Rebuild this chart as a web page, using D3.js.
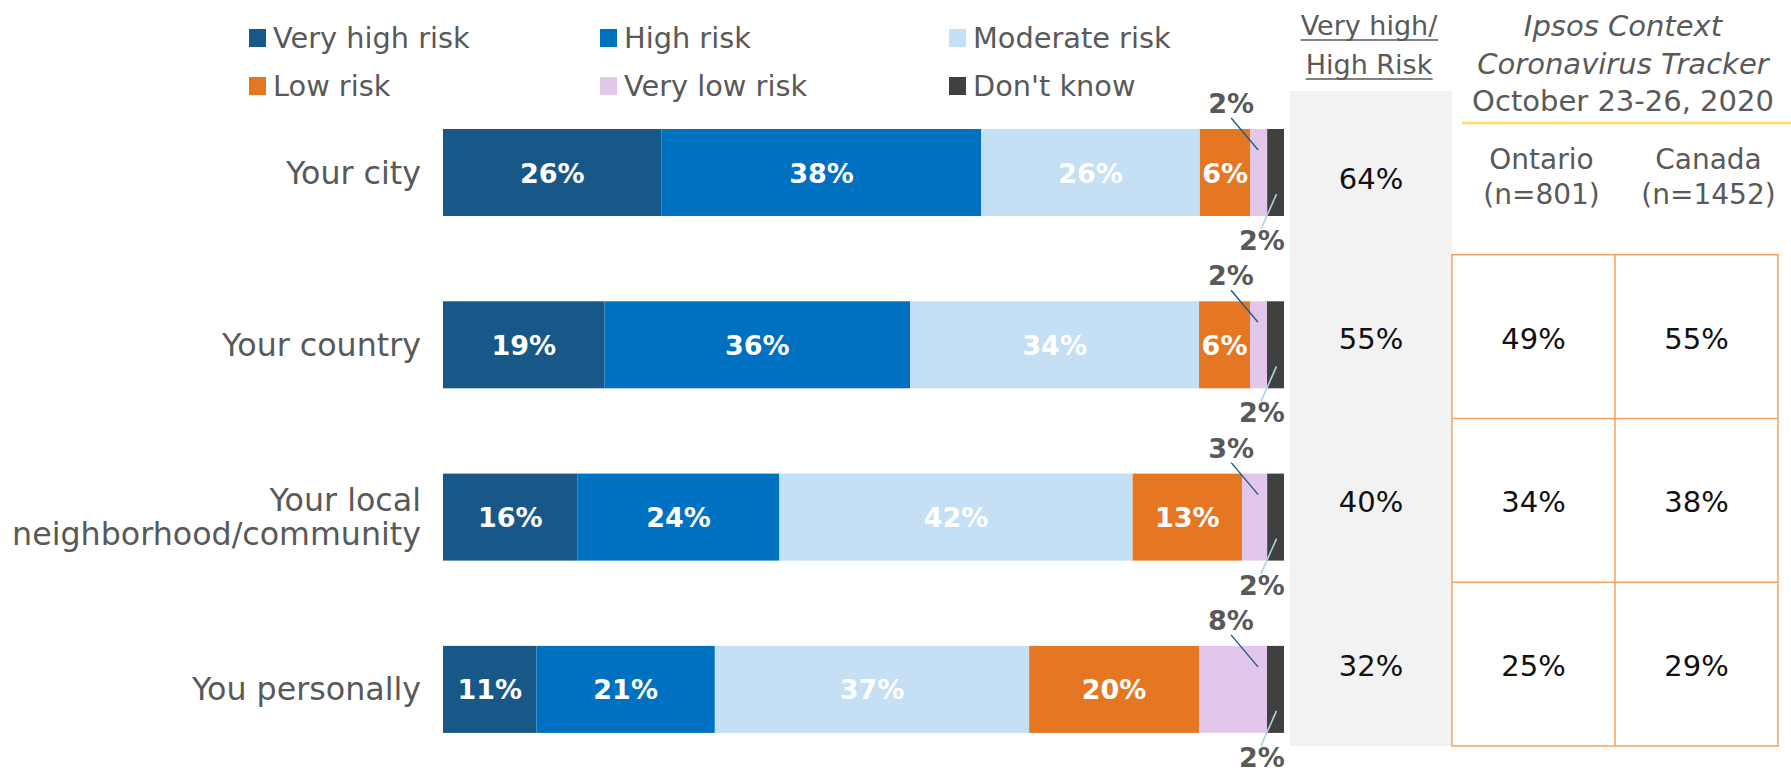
<!DOCTYPE html>
<html>
<head>
<meta charset="utf-8">
<script src="https://cdn.jsdelivr.net/npm/d3@7"></script>
<style>
  html, body { margin: 0; padding: 0; background: #ffffff; }
  svg { display: block; }
  text { font-family: "DejaVu Sans", sans-serif; }
</style>
</head>
<body>
<svg id="chart" width="1791" height="777"></svg>
<script>
// ---------- DATA ----------
const categories = ["Your city", "Your country", "Your local\nneighborhood/community", "You personally"];
const seriesNames = ["Very high risk", "High risk", "Moderate risk", "Low risk", "Very low risk", "Don't know"];
const veryHigh = [26, 19, 16, 11];
const high     = [38, 36, 24, 21];
const moderate = [26, 34, 42, 37];
const low      = [6, 6, 13, 20];
const veryLow  = [2, 2, 3, 8];
const dontKnow = [2, 2, 2, 2];
const veryHighHigh = [64, 55, 40, 32];
const trackerCategories = ["Your country", "Your local\nneighborhood/community", "You personally"];
const ontario = [49, 34, 25];
const canada  = [55, 38, 29];
const trackerColumns = ["Ontario\n(n=801)", "Canada\n(n=1452)"];
const trackerTitle = ["Ipsos Context", "Coronavirus Tracker", "October 23-26, 2020"];
const sumHeader = ["Very high/", "High Risk"];

// ---------- STYLE ----------
const colors = ["#185888", "#0070c0", "#c5dff4", "#e67722", "#e2c7eb", "#404040"];
const textGray = "#595959";

const series = [veryHigh, high, moderate, low, veryLow, dontKnow];
const rows = categories.map((c, i) => {
  const r = { category: c };
  seriesNames.forEach((s, j) => r[s] = series[j][i]);
  return r;
});

const svg = d3.select("#chart");

// scales
const y = d3.scaleBand().domain(categories).range([86.35, 775.55]).paddingInner(0.495).paddingOuter(0.2475);
const x = d3.scaleLinear().domain([0, 1]).range([443, 1284]);
const color = d3.scaleOrdinal().domain(seriesNames).range(colors);
const rowY = d3.scaleBand().domain(categories).range([91, 746]).padding(0);

const stacked = d3.stack().keys(seriesNames).offset(d3.stackOffsetExpand)(rows);

// ---------- Gray summary column ----------
const grayX0 = 1290, grayX1 = 1452;
svg.append("rect").attr("x", grayX0).attr("y", rowY.range()[0])
  .attr("width", grayX1 - grayX0).attr("height", rowY.range()[1] - rowY.range()[0])
  .attr("fill", "#f2f2f2");

svg.append("g").selectAll("text").data(categories).join("text")
  .attr("x", (grayX0 + grayX1) / 2)
  .attr("y", (d, i) => rowY(d) + rowY.bandwidth() / 2 + (i === 0 ? 16 : 12))
  .attr("text-anchor", "middle")
  .attr("font-size", 29).attr("fill", "#111")
  .text((d, i) => veryHighHigh[i] + "%");

// header for gray column (underlined)
sumHeader.forEach((t, i) => {
  const tx = svg.append("text").attr("x", 1369).attr("y", [35, 74][i])
    .attr("text-anchor", "middle").attr("font-size", 27).attr("fill", textGray).text(t);
  const bb = tx.node().getBBox();
  svg.append("line").attr("x1", bb.x).attr("x2", bb.x + bb.width)
    .attr("y1", [40, 79][i]).attr("y2", [40, 79][i])
    .attr("stroke", textGray).attr("stroke-width", 1.6);
});

// ---------- Bars ----------
const layers = svg.append("g").selectAll("g").data(stacked).join("g")
  .attr("fill", d => color(d.key));
layers.selectAll("rect").data(d => d.map(v => Object.assign(v, { key: d.key }))).join("rect")
  .attr("x", d => x(d[0]))
  .attr("y", d => y(d.data.category))
  .attr("width", d => x(d[1]) - x(d[0]))
  .attr("height", y.bandwidth());

// inside labels
const insideKeys = seriesNames.slice(0, 4);
stacked.filter(s => insideKeys.includes(s.key)).forEach(s => {
  svg.append("g").selectAll("text").data(s).join("text")
    .attr("x", d => (x(d[0]) + x(d[1])) / 2)
    .attr("y", d => y(d.data.category) + y.bandwidth() / 2 + 10)
    .attr("text-anchor", "middle")
    .attr("font-size", 27).attr("font-weight", "bold").attr("fill", "#ffffff")
    .text(d => d.data[s.key] + "%");
});

// outside labels with leader lines
const vlSeries = stacked.find(s => s.key === "Very low risk");
const dkSeries = stacked.find(s => s.key === "Don't know");
vlSeries.forEach(d => {
  const top = y(d.data.category);
  const pinkEnd = x(d[1]);
  const lx = pinkEnd - 36;
  svg.append("line").attr("x1", lx).attr("y1", top - 11).attr("x2", pinkEnd - 9).attr("y2", top + 21)
    .attr("stroke", "#1f5a8a").attr("stroke-width", 1.4);
  svg.append("text").attr("x", lx).attr("y", top - 16).attr("text-anchor", "middle")
    .attr("font-size", 27).attr("font-weight", "bold").attr("fill", textGray)
    .text(d.data["Very low risk"] + "%");
});
dkSeries.forEach(d => {
  const bottom = y(d.data.category) + y.bandwidth();
  const cx = (x(d[0]) + x(d[1])) / 2;
  const lx = x(d[1]) - 22;
  svg.append("line").attr("x1", cx + 1).attr("y1", bottom - 22).attr("x2", lx - 1).attr("y2", bottom + 13)
    .attr("stroke", "#a9d3df").attr("stroke-width", 1.6);
  svg.append("text").attr("x", lx).attr("y", bottom + 34).attr("text-anchor", "middle")
    .attr("font-size", 27).attr("font-weight", "bold").attr("fill", textGray)
    .text(d.data["Don't know"] + "%");
});

// category labels
svg.append("g").selectAll("text").data(categories).join("text")
  .attr("text-anchor", "end")
  .attr("font-size", 31.7).attr("fill", textGray)
  .each(function (d) {
    const lines = d.split("\n");
    const cy = y(d) + y.bandwidth() / 2;
    const lh = 34;
    d3.select(this).selectAll("tspan").data(lines).join("tspan")
      .attr("x", 421)
      .attr("y", (l, i) => cy + 11 + (i - (lines.length - 1) / 2) * lh)
      .text(l => l);
  });

// ---------- Legend ----------
const legCols = [249, 600, 949];
const legRows = [38, 86];
const legend = svg.append("g").selectAll("g").data(seriesNames).join("g")
  .attr("transform", (d, i) => `translate(${legCols[i % 3]},${legRows[Math.floor(i / 3)]})`);
legend.append("rect").attr("x", 0).attr("y", -9).attr("width", 17).attr("height", 18)
  .attr("fill", d => color(d));
legend.append("text").attr("x", 24).attr("y", 10).attr("font-size", 28.8).attr("fill", textGray)
  .text(d => d);

// ---------- Tracker table ----------
const tracker = svg.append("g");
trackerTitle.forEach((t, i) => {
  tracker.append("text").attr("x", 1623).attr("y", [36, 74, 111][i]).attr("text-anchor", "middle")
    .attr("font-size", 29).attr("fill", textGray)
    .attr("font-style", i < 2 ? "italic" : "normal")
    .text(t);
});
tracker.append("line").attr("x1", 1462).attr("x2", 1791).attr("y1", 123).attr("y2", 123)
  .attr("stroke", "#ffd966").attr("stroke-width", 2.5);

const colX = d3.scaleBand().domain(trackerColumns).range([1452, 1778]);
const headerShift = [8, 12];
trackerColumns.forEach((c, ci) => {
  const lines = c.split("\n");
  lines.forEach((l, i) => {
    tracker.append("text").attr("x", colX(c) + colX.bandwidth() / 2 + headerShift[ci]).attr("y", [169, 204][i])
      .attr("text-anchor", "middle").attr("font-size", 28).attr("fill", textGray).text(l);
  });
});

const tTop = rowY(trackerCategories[0]);
const tBottom = rowY.range()[1];
// grid
tracker.append("rect").attr("x", colX.range()[0]).attr("y", tTop)
  .attr("width", colX.range()[1] - colX.range()[0]).attr("height", tBottom - tTop)
  .attr("fill", "none").attr("stroke", "#f4a261").attr("stroke-width", 1.5);
tracker.append("line").attr("x1", colX(trackerColumns[1])).attr("x2", colX(trackerColumns[1]))
  .attr("y1", tTop).attr("y2", tBottom).attr("stroke", "#f4a261").attr("stroke-width", 1.5);
tracker.selectAll("line.h").data(trackerCategories.slice(1)).join("line").attr("class", "h")
  .attr("x1", colX.range()[0]).attr("x2", colX.range()[1])
  .attr("y1", d => rowY(d)).attr("y2", d => rowY(d))
  .attr("stroke", "#f4a261").attr("stroke-width", 1.5);

[ontario, canada].forEach((vals, ci) => {
  const c = trackerColumns[ci];
  tracker.append("g").selectAll("text").data(trackerCategories).join("text")
    .attr("x", colX(c) + colX.bandwidth() / 2)
    .attr("y", d => rowY(d) + rowY.bandwidth() / 2 + 12)
    .attr("text-anchor", "middle").attr("font-size", 29).attr("fill", "#111")
    .text((d, i) => vals[i] + "%");
});
</script>
</body>
</html>
